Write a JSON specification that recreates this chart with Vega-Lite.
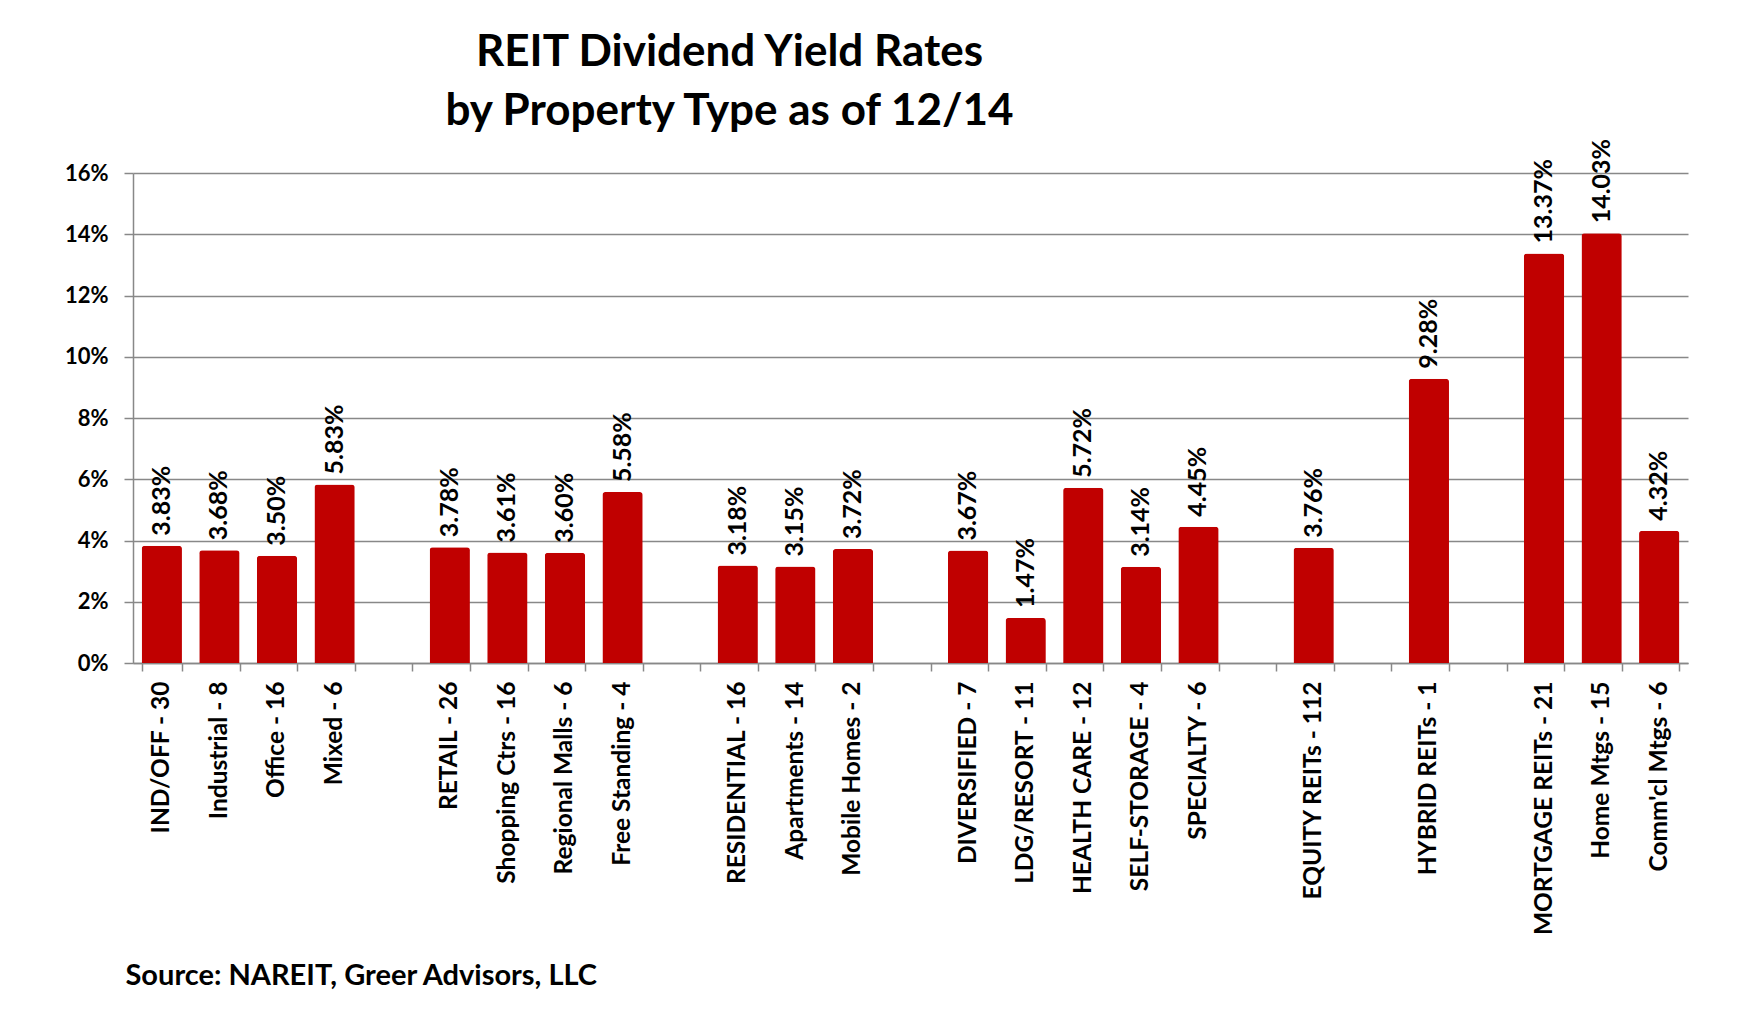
{
  "$schema": "https://vega.github.io/schema/vega-lite/v6.json",
  "width": 1555,
  "height": 490,
  "autosize": {"type": "none"},
  "padding": {"left": 133, "top": 173, "right": 50, "bottom": 350},
  "background": "white",
  "title": {
    "text": ["REIT Dividend Yield Rates", "by Property Type as of 12/14"],
    "font": "Lato",
    "fontSize": 44,
    "fontWeight": "bold",
    "lineHeight": 59,
    "color": "black",
    "anchor": "middle",
    "dx": -181,
    "offset": 5
  },
  "data": {
    "values": [
      {"cat": "IND/OFF - 30", "yield": 0.0383},
      {"cat": "Industrial - 8", "yield": 0.0368},
      {"cat": "Office - 16", "yield": 0.0350},
      {"cat": "Mixed - 6", "yield": 0.0583},
      {"cat": "RETAIL - 26", "yield": 0.0378},
      {"cat": "Shopping Ctrs - 16", "yield": 0.0361},
      {"cat": "Regional Malls - 6", "yield": 0.0360},
      {"cat": "Free Standing - 4", "yield": 0.0558},
      {"cat": "RESIDENTIAL - 16", "yield": 0.0318},
      {"cat": "Apartments - 14", "yield": 0.0315},
      {"cat": "Mobile Homes - 2", "yield": 0.0372},
      {"cat": "DIVERSIFIED - 7", "yield": 0.0367},
      {"cat": "LDG/RESORT - 11", "yield": 0.0147},
      {"cat": "HEALTH CARE - 12", "yield": 0.0572},
      {"cat": "SELF-STORAGE - 4", "yield": 0.0314},
      {"cat": "SPECIALTY - 6", "yield": 0.0445},
      {"cat": "EQUITY REITs - 112", "yield": 0.0376},
      {"cat": "HYBRID REITs - 1", "yield": 0.0928},
      {"cat": "MORTGAGE REITs - 21", "yield": 0.1337},
      {"cat": "Home Mtgs - 15", "yield": 0.1403},
      {"cat": "Comm'cl Mtgs - 6", "yield": 0.0432}
    ]
  },
  "encoding": {
    "x": {
      "field": "cat",
      "type": "nominal",
      "scale": {
        "domain": ["IND/OFF - 30","Industrial - 8","Office - 16","Mixed - 6","gap1","RETAIL - 26","Shopping Ctrs - 16","Regional Malls - 6","Free Standing - 4","gap2","RESIDENTIAL - 16","Apartments - 14","Mobile Homes - 2","gap3","DIVERSIFIED - 7","LDG/RESORT - 11","HEALTH CARE - 12","SELF-STORAGE - 4","SPECIALTY - 6","gap4","EQUITY REITs - 112","gap5","HYBRID REITs - 1","gap6","MORTGAGE REITs - 21","Home Mtgs - 15","Comm'cl Mtgs - 6"],
        "paddingInner": 0.3,
        "paddingOuter": 0.15
      },
      "axis": {
        "title": "Source: NAREIT, Greer Advisors, LLC",
        "titleFont": "Lato",
        "titleFontSize": 29,
        "titleFontWeight": "bold",
        "titleColor": "black",
        "titleAngle": 0,
        "titleAlign": "left",
        "titleBaseline": "alphabetic",
        "titleX": -8,
        "titleY": 321,
        "labelExpr": "test(/^gap/, datum.value) ? '' : datum.value",
        "labelAngle": -90,
        "labelFont": "Lato",
        "labelFontSize": 24.5,
        "labelFontWeight": "bold",
        "labelColor": "black",
        "labelPadding": 10,
        "labelLimit": 400,
        "tickBand": "extent",
        "tickSize": 8,
        "tickColor": "#888888",
        "tickWidth": 1.5,
        "domainColor": "#888888",
        "domainWidth": 1.5,
        "grid": false
      }
    },
    "y": {
      "field": "yield",
      "type": "quantitative",
      "scale": {"domain": [0, 0.16], "nice": false},
      "axis": {
        "title": null,
        "values": [0, 0.02, 0.04, 0.06, 0.08, 0.1, 0.12, 0.14, 0.16],
        "format": ".0%",
        "labelFont": "Lato",
        "labelFontSize": 22,
        "labelFontWeight": "bold",
        "labelColor": "black",
        "labelPadding": 16,
        "tickSize": 9,
        "tickColor": "#888888",
        "tickWidth": 1.5,
        "domainColor": "#888888",
        "domainWidth": 1.5,
        "grid": true,
        "gridColor": "#888888",
        "gridWidth": 1.5
      }
    }
  },
  "layer": [
    {
      "mark": {"type": "bar", "color": "#C00000", "cornerRadiusTopLeft": 3, "cornerRadiusTopRight": 3}
    },
    {
      "mark": {"type": "text", "angle": 270, "align": "left", "baseline": "middle", "dx": 10, "font": "Lato", "fontSize": 25, "fontWeight": "bold", "color": "black"},
      "encoding": {
        "text": {"field": "yield", "type": "quantitative", "format": ".2%"}
      }
    }
  ],
  "config": {
    "view": {"stroke": null}
  }
}
